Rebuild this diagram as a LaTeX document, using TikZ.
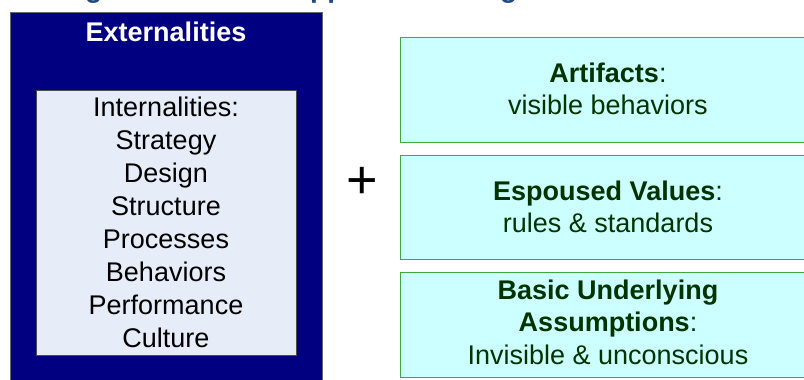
\documentclass[tikz,border=0pt]{standalone}
\usepackage{fontspec}
\setmainfont{Liberation Sans}
\definecolor{navy}{RGB}{0,0,128}
\definecolor{innerfill}{RGB}{230,236,248}
\definecolor{cyanfill}{RGB}{204,255,255}
\definecolor{greenline}{RGB}{60,170,60}
\definecolor{greentext}{RGB}{0,51,0}
\definecolor{titleblue}{RGB}{31,73,125}
\tikzset{
  layerbox/.style={draw=greenline, line width=1pt, fill=cyanfill},
  layertext/.style={text=greentext, align=center, font=\fontsize{27}{32.5}\selectfont},
  listtext/.style={text=black, align=center, font=\fontsize{27}{33}\selectfont},
  titlechar/.style={text=titleblue, font=\bfseries\fontsize{28}{30}\selectfont, anchor=base west, inner sep=0pt}
}
\begin{document}
\begin{tikzpicture}[x=1pt,y=-1pt]
\useasboundingbox (0,0) rectangle (804,380);
\clip (0,0) rectangle (804,380);
% cut-off title: only descenders remain visible
\node[titlechar] (t1) at (85,-2) {g};
\node[titlechar] (t2) at (310,-2) {pp};
\node[titlechar] (t3) at (500,-2) {g};
% left panel
\path[fill=navy, draw=black!60, line width=1pt] (10,12) rectangle (322,390);
\node[text=white, font=\bfseries\fontsize{27}{30}\selectfont] (ext) at (166,32) {Externalities};
\path[fill=innerfill, draw=black!70, line width=1pt] (36,90) rectangle (296,355);
\node[listtext] (inner) at (166,222) {Internalities:\\Strategy\\Design\\Structure\\Processes\\Behaviors\\Performance\\Culture};
% plus
\node[font=\fontsize{54}{54}\selectfont] (plus) at (362,183) {+};
% right boxes
\path[layerbox] (400,37) rectangle (815,142);
\node[layertext] (art) at (608,89) {\textbf{Artifacts}:\\visible behaviors};
\path[layerbox] (400,155) rectangle (815,259);
\node[layertext] (esp) at (608,207) {\textbf{Espoused Values}:\\rules \& standards};
\path[layerbox] (400,272) rectangle (815,377);
\node[layertext] (bua) at (608,322) {\textbf{Basic Underlying}\\\textbf{Assumptions}:\\Invisible \& unconscious};
\end{tikzpicture}
\end{document}
